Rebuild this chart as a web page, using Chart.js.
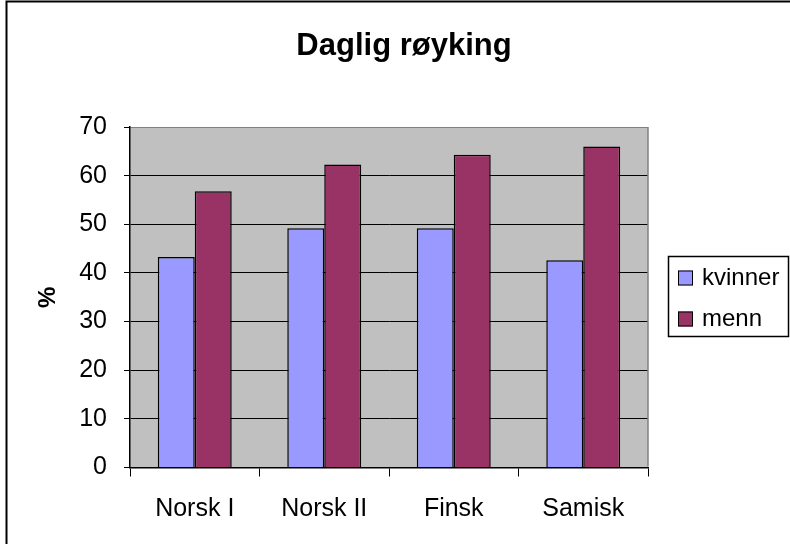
<!DOCTYPE html>
<html><head><meta charset="utf-8">
<script src="https://cdn.jsdelivr.net/npm/chart.js@4/dist/chart.umd.min.js"></script>
<style>html,body{margin:0;padding:0;background:#fff}canvas{display:block}</style>
</head><body>
<canvas id="c" width="790" height="544"></canvas>
<script>
const chartTitle = 'Daglig røyking';
const categories = ['Norsk I', 'Norsk II', 'Finsk', 'Samisk'];
const seriesNames = ['kvinner', 'menn'];
const kvinner = [43.3, 49.2, 49.2, 42.6];
const menn = [56.8, 62.3, 64.3, 66.0];
const yTitle = '%';
const yMin = 0, yMax = 70, yStep = 10;

const FONT = "'Liberation Sans', Arial, sans-serif";
const seriesColors = ['#9999FF', '#993366'];

const boxLegendPlugin = {
  id: 'boxLegend',
  beforeInit(chart) {
    const box = {
      position: 'right', weight: 1000, fullSize: false, options: {},
      left: 0, top: 0, right: 0, bottom: 0, width: 0, height: 0,
      isHorizontal() { return false; },
      update(maxWidth, maxHeight) { this.width = 142; this.height = maxHeight; },
      draw() {
        const ctx = chart.ctx;
        const cy = (this.top + this.bottom) / 2;
        const x0 = this.left + 20.5, x1 = this.left + 140.5;
        const y0 = Math.round(cy - 41) + 0.5, y1 = Math.round(cy + 39) + 0.5;
        ctx.save();
        ctx.fillStyle = '#fff';
        ctx.fillRect(x0, y0, x1 - x0, y1 - y0);
        ctx.lineWidth = 1.5; ctx.strokeStyle = '#000';
        ctx.strokeRect(x0, y0, x1 - x0, y1 - y0);
        ctx.font = '24px ' + FONT; ctx.textBaseline = 'middle'; ctx.textAlign = 'left';
        chart.data.datasets.forEach((ds, i) => {
          const yc = Math.round(cy - 19 + i * 41);
          ctx.fillStyle = ds.backgroundColor;
          ctx.fillRect(this.left + 30, yc - 7.5, 15, 15);
          ctx.lineWidth = 1; ctx.strokeStyle = '#000';
          ctx.strokeRect(this.left + 30.5, yc - 7, 14, 14);
          ctx.fillStyle = '#000';
          ctx.fillText(ds.label, this.left + 54, yc);
        });
        ctx.restore();
      }
    };
    Chart.layouts.addBox(chart, box);
  }
};

const decorPlugin = {
  id: 'decor',
  beforeDraw(chart) {
    const {ctx, chartArea: a} = chart;
    ctx.save();
    ctx.fillStyle = '#fff';
    ctx.fillRect(0, 0, chart.width, chart.height);
    ctx.fillStyle = '#C0C0C0';
    ctx.fillRect(a.left, a.top, a.right - a.left, a.bottom - a.top);
    ctx.restore();
  },
  afterDraw(chart) {
    const {ctx, chartArea: a} = chart;
    ctx.save();
    ctx.strokeStyle = '#808080'; ctx.lineWidth = 1.5;
    ctx.beginPath();
    ctx.moveTo(a.right, a.top); ctx.lineTo(a.right, a.bottom - 1);
    ctx.stroke();
    ctx.strokeStyle = '#000'; ctx.lineWidth = 2;
    ctx.beginPath();
    ctx.moveTo(6.5, chart.height + 5); ctx.lineTo(6.5, 1.5); ctx.lineTo(chart.width + 5, 1.5);
    ctx.stroke();
    ctx.restore();
  }
};

new Chart(document.getElementById('c'), {
  type: 'bar',
  data: {
    labels: categories,
    datasets: [
      { label: seriesNames[0], data: kvinner, backgroundColor: seriesColors[0], borderColor: '#000', borderWidth: 1.5 },
      { label: seriesNames[1], data: menn, backgroundColor: seriesColors[1], borderColor: '#000', borderWidth: 1.5 }
    ]
  },
  options: {
    responsive: false,
    devicePixelRatio: 1,
    animation: false,
    layout: { padding: { left: 18, right: 0, top: 0, bottom: 0 } },
    datasets: { bar: { categoryPercentage: 0.571, barPercentage: 1 } },
    plugins: {
      legend: { display: false },
      tooltip: { enabled: false },
      title: {
        display: true, text: chartTitle, color: '#000',
        font: { family: FONT, size: 31, weight: 'bold' },
        padding: { top: 27.4, bottom: 62.4 }
      }
    },
    scales: {
      x: {
        grid: { display: true, drawOnChartArea: false, drawTicks: true, tickLength: 9, color: '#000', offset: true },
        border: { color: '#000', width: 1.5 },
        ticks: { font: { family: FONT, size: 25 }, color: '#000', padding: 18, autoSkip: false, maxRotation: 0 },
        afterFit(s) { s.height = 76.5; }
      },
      y: {
        min: yMin, max: yMax,
        grid: { color: (c) => (c.tick && c.tick.value === yMax ? '#808080' : '#000'), lineWidth: 1, tickLength: 6, tickColor: '#000' },
        border: { color: '#000', width: 1.5 },
        ticks: { stepSize: yStep, font: { family: FONT, size: 25 }, color: '#000', padding: 17 },
        title: { display: true, text: yTitle, color: '#000', font: { family: FONT, size: 24, weight: 'bold' }, padding: { top: 15.6, bottom: 0 } },
        afterFit(s) { s.width = 112; }
      }
    }
  },
  plugins: [boxLegendPlugin, decorPlugin]
});
</script>
</body></html>
